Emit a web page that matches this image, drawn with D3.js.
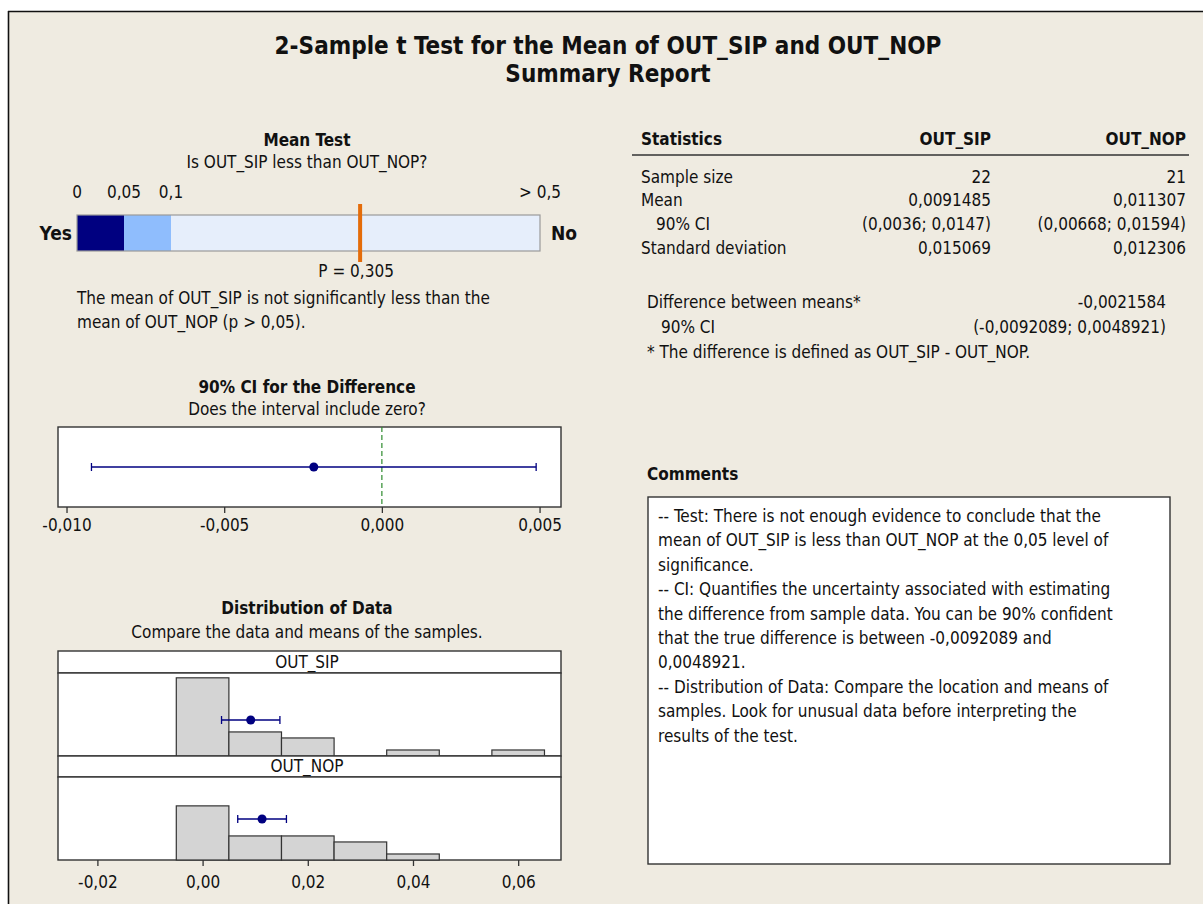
<!DOCTYPE html>
<html><head><meta charset="utf-8">
<script src="https://cdn.jsdelivr.net/npm/d3@7"></script>
<style>
html,body{margin:0;padding:0;background:#fff;}
svg text{font-family:"DejaVu Sans Condensed","DejaVu Sans",sans-serif;font-stretch:condensed;fill:#111;}
</style></head>
<body>
<svg id="c" width="1203" height="904"></svg>
<script>
// ---------- data ----------
const titleLines = ["2-Sample t Test for the Mean of OUT_SIP and OUT_NOP", "Summary Report"];
const meanTestBreaks = [0, 0.05, 0.1, 0.5];
const meanTestLabels = ["0", "0,05", "0,1", "> 0,5"];
const pValue = 0.305;
const pLabel = "P = 0,305";
const conclusion = ["The mean of OUT_SIP is not significantly less than the", "mean of OUT_NOP (p > 0,05)."];
const diffEstimate = -0.0021584;
const diffCI = [-0.0092089, 0.0048921];
const ciTicks = [-0.010, -0.005, 0.000, 0.005];
const samples = ["OUT_SIP", "OUT_NOP"];
const sampleMeans = [0.0091485, 0.011307];
const sampleCILow = [0.0036, 0.00668];
const sampleCIHigh = [0.0147, 0.01594];
const binCenters = [0.00, 0.01, 0.02, 0.03, 0.04, 0.05, 0.06];
const sipCounts = [13, 4, 3, 0, 1, 0, 1];
const nopCounts = [9, 4, 4, 3, 1, 0, 0];
const distTicks = [-0.02, 0.00, 0.02, 0.04, 0.06];
const statsHeader = ["Statistics", "OUT_SIP", "OUT_NOP"];
const statsLabels = ["Sample size", "Mean", "  90% CI", "Standard deviation"];
const statsSIP = ["22", "0,0091485", "(0,0036; 0,0147)", "0,015069"];
const statsNOP = ["21", "0,011307", "(0,00668; 0,01594)", "0,012306"];
const diffLabels = ["Difference between means*", "90% CI"];
const diffValues = ["-0,0021584", "(-0,0092089; 0,0048921)"];
const diffNote = "* The difference is defined as OUT_SIP - OUT_NOP.";
const comments = [
  "-- Test: There is not enough evidence to conclude that the",
  "mean of OUT_SIP is less than OUT_NOP at the 0,05 level of",
  "significance.",
  "-- CI: Quantifies the uncertainty associated with estimating",
  "the difference from sample data. You can be 90% confident",
  "that the true difference is between -0,0092089 and",
  "0,0048921.",
  "-- Distribution of Data: Compare the location and means of",
  "samples. Look for unusual data before interpreting the",
  "results of the test."
];

// ---------- drawing ----------
const loc = d3.formatLocale({decimal: ",", thousands: ".", grouping: [3], currency: ["", ""], minus: "-"});
const svg = d3.select("#c");
const BG = "#efebe1", NAVY = "#000080", BORDER = "#333";
const FS = 17;

svg.append("rect").attr("x", 0).attr("y", 0).attr("width", 1203).attr("height", 904).attr("fill", "#fff");
svg.append("rect").attr("x", 8).attr("y", 11).attr("width", 1200).attr("height", 900).attr("fill", BG);
svg.append("line").attr("x1", 8).attr("x2", 1203).attr("y1", 11.5).attr("y2", 11.5).attr("stroke", "#111").attr("stroke-width", 1.6);
svg.append("line").attr("x1", 8.5).attr("x2", 8.5).attr("y1", 11).attr("y2", 904).attr("stroke", "#111").attr("stroke-width", 1.6);

function txt(x, y, s, opt = {}) {
  return svg.append("text").attr("x", x).attr("y", y).text(s)
    .attr("font-size", opt.size || FS)
    .attr("font-weight", opt.bold ? "bold" : null)
    .attr("text-anchor", opt.anchor || "start");
}

// title
txt(608, 54, titleLines[0], {size: 24, bold: true, anchor: "middle"});
txt(608, 82, titleLines[1], {size: 24, bold: true, anchor: "middle"});

// ---- Mean test ----
const CX = 307;
txt(CX, 146, "Mean Test", {bold: true, anchor: "middle"});
txt(CX, 168, "Is OUT_SIP less than OUT_NOP?", {anchor: "middle"});
const xP = d3.scaleLinear().domain(meanTestBreaks).range([77, 124, 171, 540]);
const segColors = [NAVY, "#8fbdfd", "#e6eefb"];
const barTop = 215, barH = 36;
svg.append("g").selectAll("rect").data(d3.pairs(meanTestBreaks)).join("rect")
  .attr("x", d => xP(d[0])).attr("width", d => xP(d[1]) - xP(d[0]))
  .attr("y", barTop).attr("height", barH).attr("fill", (d, i) => segColors[i]);
svg.append("rect").attr("x", xP(0)).attr("y", barTop).attr("width", xP(0.5) - xP(0)).attr("height", barH)
  .attr("fill", "none").attr("stroke", "#9a9a9a").attr("stroke-width", 1.2);
meanTestBreaks.forEach((b, i) => txt(xP(b), 198, meanTestLabels[i], {anchor: "middle"}));
txt(72, 240, "Yes", {size: 19, bold: true, anchor: "end"});
txt(551, 240, "No", {size: 19, bold: true});
svg.append("line").attr("x1", xP(pValue)).attr("x2", xP(pValue)).attr("y1", 204).attr("y2", 262)
  .attr("stroke", "#e46c0a").attr("stroke-width", 4);
txt(xP(pValue) - 4, 277, pLabel, {anchor: "middle"});
conclusion.forEach((s, i) => txt(77, 304 + i * 24, s));

// ---- CI for difference ----
txt(CX, 393, "90% CI for the Difference", {bold: true, anchor: "middle"});
txt(CX, 415, "Does the interval include zero?", {anchor: "middle"});
const boxL = 58, boxR = 561;
const xCI = d3.scaleLinear().domain([-0.01027, 0.00568]).range([boxL, boxR]);
const ciTop = 427, ciBot = 507;
svg.append("rect").attr("x", boxL).attr("y", ciTop).attr("width", boxR - boxL).attr("height", ciBot - ciTop)
  .attr("fill", "#fff").attr("stroke", BORDER).attr("stroke-width", 1.4);
svg.append("line").attr("x1", xCI(0)).attr("x2", xCI(0)).attr("y1", ciTop).attr("y2", ciBot)
  .attr("stroke", "#2e8b2e").attr("stroke-width", 1.2).attr("stroke-dasharray", "5,3");
const ciY = 467;
svg.append("line").attr("x1", xCI(diffCI[0])).attr("x2", xCI(diffCI[1])).attr("y1", ciY).attr("y2", ciY)
  .attr("stroke", NAVY).attr("stroke-width", 1.3);
diffCI.forEach(v => svg.append("line").attr("x1", xCI(v)).attr("x2", xCI(v)).attr("y1", ciY - 4).attr("y2", ciY + 4)
  .attr("stroke", NAVY).attr("stroke-width", 1.3));
svg.append("circle").attr("cx", xCI(diffEstimate)).attr("cy", ciY).attr("r", 4.5).attr("fill", NAVY);
const ciAxis = svg.append("g").attr("transform", `translate(0,${ciBot})`)
  .call(d3.axisBottom(xCI).tickValues(ciTicks).tickSize(6).tickPadding(6).tickFormat(loc.format(".3f")));
ciAxis.select(".domain").remove();
ciAxis.selectAll("line").attr("stroke", BORDER).attr("stroke-width", 1.3);
ciAxis.selectAll("text").attr("font-size", FS).attr("fill", "#111").attr("font-family", null);

// ---- Distribution ----
txt(CX, 614, "Distribution of Data", {bold: true, anchor: "middle"});
txt(CX, 638, "Compare the data and means of the samples.", {anchor: "middle"});
const xD = d3.scaleLinear().domain([-0.02749, 0.06814]).range([boxL, boxR]);
const panels = [
  {name: samples[0], counts: sipCounts, hTop: 651, hBot: 673, pBot: 756, meanY: 720},
  {name: samples[1], counts: nopCounts, hTop: 756, hBot: 777, pBot: 860, meanY: 819}
];
panels.forEach((p, k) => {
  svg.append("rect").attr("x", boxL).attr("y", p.hTop).attr("width", boxR - boxL).attr("height", p.hBot - p.hTop)
    .attr("fill", "#fff").attr("stroke", BORDER).attr("stroke-width", 1.4);
  txt(CX, p.hBot - 5, p.name, {anchor: "middle"});
  svg.append("rect").attr("x", boxL).attr("y", p.hBot).attr("width", boxR - boxL).attr("height", p.pBot - p.hBot)
    .attr("fill", "#fff").attr("stroke", BORDER).attr("stroke-width", 1.4);
  const y = d3.scaleLinear().domain([0, 13.8]).range([p.pBot, p.hBot]);
  svg.append("g").selectAll("rect").data(binCenters).join("rect")
    .attr("x", d => xD(d - 0.005)).attr("width", d => xD(d + 0.005) - xD(d - 0.005))
    .attr("y", (d, i) => y(p.counts[i])).attr("height", (d, i) => y(0) - y(p.counts[i]))
    .attr("fill", "#d4d4d4").attr("stroke", "#333").attr("stroke-width", (d, i) => p.counts[i] === 0 ? 2 : 1.2);
  const m = sampleMeans[k], lo = sampleCILow[k], hi = sampleCIHigh[k];
  svg.append("line").attr("x1", xD(lo)).attr("x2", xD(hi)).attr("y1", p.meanY).attr("y2", p.meanY)
    .attr("stroke", NAVY).attr("stroke-width", 1.3);
  [lo, hi].forEach(v => svg.append("line").attr("x1", xD(v)).attr("x2", xD(v)).attr("y1", p.meanY - 4).attr("y2", p.meanY + 4)
    .attr("stroke", NAVY).attr("stroke-width", 1.3));
  svg.append("circle").attr("cx", xD(m)).attr("cy", p.meanY).attr("r", 4.5).attr("fill", NAVY);
});
const dAxis = svg.append("g").attr("transform", `translate(0,860)`)
  .call(d3.axisBottom(xD).tickValues(distTicks).tickSize(6).tickPadding(10).tickFormat(loc.format(".2f")));
dAxis.select(".domain").remove();
dAxis.selectAll("line").attr("stroke", BORDER).attr("stroke-width", 1.3);
dAxis.selectAll("text").attr("font-size", FS).attr("fill", "#111").attr("font-family", null);

// ---- Statistics table ----
const c0 = 641, c1 = 991, c2 = 1186;
txt(c0, 145, statsHeader[0], {bold: true});
txt(c1, 145, statsHeader[1], {bold: true, anchor: "end"});
txt(c2, 145, statsHeader[2], {bold: true, anchor: "end"});
svg.append("line").attr("x1", 632).attr("x2", 1189).attr("y1", 155).attr("y2", 155).attr("stroke", "#333").attr("stroke-width", 1.4);
const rowY = [183, 206, 230, 254];
statsLabels.forEach((s, i) => {
  txt(s.startsWith(" ") ? 656 : c0, rowY[i], s.trim());
  txt(c1, rowY[i], statsSIP[i], {anchor: "end"});
  txt(c2, rowY[i], statsNOP[i], {anchor: "end"});
});
txt(647, 308, diffLabels[0]);
txt(1166, 308, diffValues[0], {anchor: "end"});
txt(661, 333, diffLabels[1]);
txt(1166, 333, diffValues[1], {anchor: "end"});
txt(647, 358, diffNote);

// ---- Comments ----
txt(647, 480, "Comments", {bold: true});
svg.append("rect").attr("x", 648).attr("y", 497).attr("width", 522).attr("height", 367)
  .attr("fill", "#fff").attr("stroke", "#333").attr("stroke-width", 1.4);
comments.forEach((s, i) => txt(658, 522 + i * 24.4, s));
</script>
</body></html>
